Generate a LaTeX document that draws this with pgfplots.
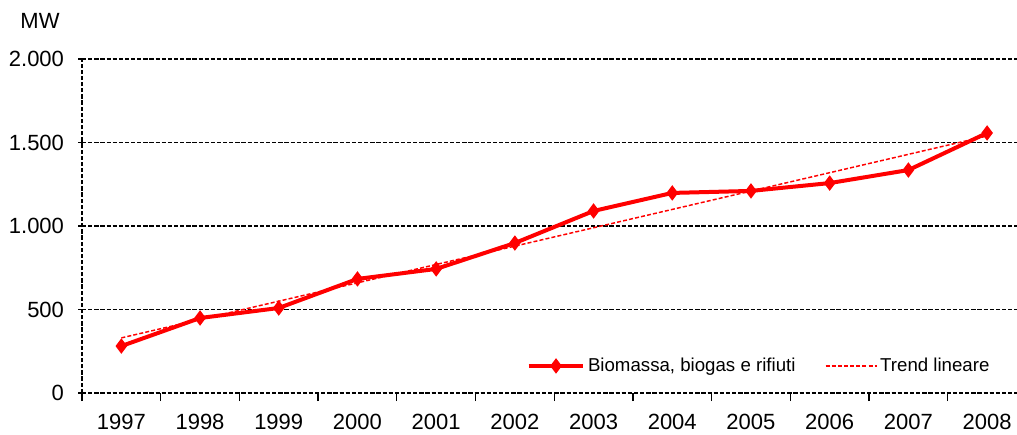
\documentclass[border=0pt]{standalone}
\usepackage{fontspec}
\setmainfont{Liberation Sans}
\usepackage{pgfplots}
\pgfplotsset{compat=1.18}
\definecolor{rosso}{HTML}{FF0000}
\tikzset{griglia/.style={black,line width=1.15pt,dash pattern=on 3.2pt off 1.4pt}}
\begin{document}
\begin{tikzpicture}
\begin{axis}[
  scale only axis,
  width=701.25pt, height=250.5pt,
  xmin=1996.5, xmax=2008.38,
  ymin=0, ymax=2000,
  axis x line=bottom, axis y line=left,
  axis line style={-, griglia},
  ytick={0,500,1000,1500,2000},
  xtick={1996.5,1997.5,...,2007.5},
  xticklabels={1997,1998,1999,2000,2001,2002,2003,2004,2005,2006,2007,2008},
  xticklabel style={xshift=29.5pt,yshift=-6pt},
  yticklabel style={/pgf/number format/1000 sep={.},xshift=-7pt},
  /pgf/number format/assume math mode=true,
  xtick align=outside, ytick align=center,
  major tick length=6pt,
  x tick style={black,line width=1pt},
  y tick style={black,line width=1pt},
  ymajorgrids=true, xmajorgrids=false,
  major grid style={griglia},
  tick label style={font=\fontsize{16.5}{19}\selectfont},
  legend columns=2,
  legend style={at={(0.978,0.081)},anchor=east,draw=none,fill=white,
    font=\fontsize{14}{16}\selectfont,/tikz/every even column/.append style={column sep=20pt}},
  legend cell align=left,
  clip=false,
]
\addplot[rosso,line width=3pt,mark=diamond*,mark size=5pt,mark options={solid,fill=rosso,line width=1pt},
  legend image code/.code={\draw[mark repeat=2,mark phase=2] plot coordinates {(0cm,0cm) (0.72cm,0cm) (1.44cm,0cm)};}]
  coordinates {(1997,281) (1998,449) (1999,509) (2000,683) (2001,743) (2002,898)
               (2003,1090) (2004,1198) (2005,1210) (2006,1257) (2007,1335) (2008,1557)};
\addlegendentry{Biomassa, biogas e rifiuti}
\addplot[rosso,line width=1.1pt,dash pattern=on 3pt off 1.6pt,
  legend image code/.code={\draw (0cm,0cm) -- (1.35cm,0cm);}]
  coordinates {(1997,330) (2008,1539)};
\addlegendentry{Trend lineare}
\end{axis}
\node[font=\fontsize{16.5}{19}\selectfont] at (-31.5pt,279pt) {MW};
\pgfresetboundingbox
\path[use as bounding box] (-61.5pt,-31.5pt) rectangle (701.25pt,294.75pt);
\end{tikzpicture}
\end{document}
